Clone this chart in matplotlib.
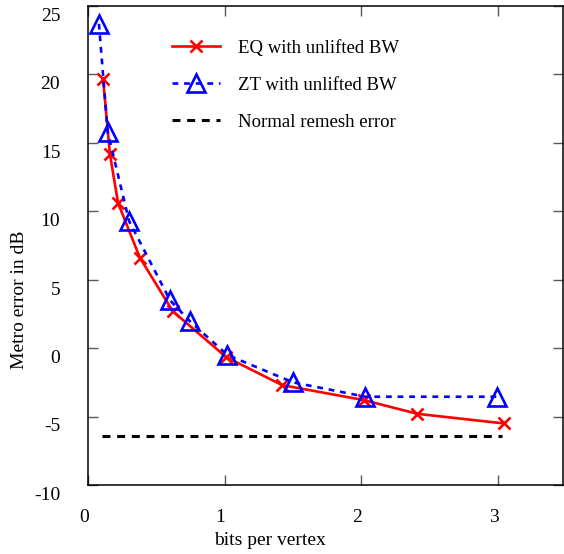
import matplotlib
matplotlib.use("Agg")
import matplotlib.pyplot as plt
from matplotlib.transforms import ScaledTranslation

plt.rcParams.update({
    "font.family": ["Liberation Serif", "DejaVu Serif"],
    "font.size": 14,
    "axes.linewidth": 1.1,
    "axes.unicode_minus": False,
})

# EQ with unlifted BW (red crosses)
eq_bpv = [0.11, 0.16, 0.22, 0.38, 0.62, 1.01, 1.42, 2.02, 2.41, 3.04]
eq_err = [19.7, 14.2, 10.6, 6.6, 2.7, -0.65, -2.7, -3.8, -4.8, -5.5]

# ZT with unlifted BW (blue triangles)
zt_bpv = [0.08, 0.144, 0.30, 0.60, 0.746, 1.02, 1.50, 2.03, 2.99]
zt_err = [23.7, 15.8, 9.3, 3.5, 1.96, -0.5, -2.5, -3.55, -3.55]

# Normal remesh error (black dashed reference)
remesh_bpv = [0.10, 3.03]
remesh_err = [-6.45, -6.45]

xticks = [0, 1, 2, 3]
yticks = [-10, -5, 0, 5, 10, 15, 20, 25]

fig = plt.figure(figsize=(5.64, 5.54), dpi=100)
ax = fig.add_axes([88 / 564, 1 - 485 / 554, 475 / 564, 479 / 554])

ax.plot(eq_bpv, eq_err, color="#ff0000", lw=1.9, marker="x", ms=8.5, mew=1.9,
        label="EQ with unlifted BW", zorder=3)
ax.plot(zt_bpv, zt_err, color="#0000ff", lw=1.9, ls=(0, (2.2, 2.2)), marker="^",
        ms=13, mew=1.9, mfc="none", label="ZT with unlifted BW", zorder=4)
ax.plot(remesh_bpv, remesh_err, color="black", lw=2.2, ls=(0, (2.6, 2.2)),
        label="Normal remesh error", zorder=2)

ax.set_xlim(0, 3.475)
ax.set_ylim(-10, 25)
ax.set_xticks(xticks)
ax.set_yticks(yticks)
ax.tick_params(direction="in", top=True, right=True, length=7, width=1,
               color="0.35", labelsize=14)
ax.tick_params(axis="x", pad=17)
ax.tick_params(axis="y", pad=20)

for lab in ax.get_yticklabels():
    lab.set_transform(lab.get_transform() + ScaledTranslation(0, -6 / 72, fig.dpi_scale_trans))
for lab in ax.get_xticklabels():
    lab.set_transform(lab.get_transform() + ScaledTranslation(-3 / 72, 0, fig.dpi_scale_trans))

ax.set_xlabel("bits per vertex", fontsize=14)
ax.set_ylabel("Metro error in dB", fontsize=14)
ax.xaxis.set_label_coords(0.383, -0.098)
ax.yaxis.set_label_coords(-0.126, 0.386)

ax.legend(loc="upper left", bbox_to_anchor=(0.16, 0.945), frameon=False,
          handlelength=2.6, handletextpad=0.95, labelspacing=1.05, fontsize=13.5,
          borderaxespad=0)

fig.savefig("out.png", dpi=100)
